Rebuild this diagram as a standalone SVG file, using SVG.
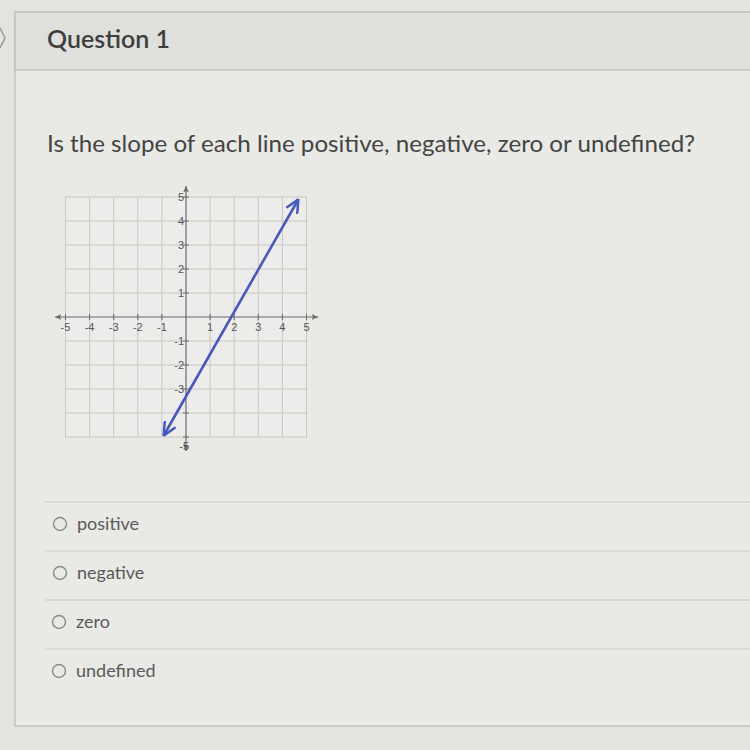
<svg xmlns="http://www.w3.org/2000/svg" width="750" height="750" viewBox="0 0 750 750">
<defs>
<style>
.grid{stroke:#c6c6c3;stroke-width:1;fill:none}
.axis{stroke:#6a6a6a;stroke-width:1.2;fill:none}
.tick{stroke:#6a6a6a;stroke-width:1}
.num{font-family:"Liberation Sans",Arial,sans-serif;font-size:11px;fill:#555}
.opt{font-family:Lato,"Liberation Sans",sans-serif;font-size:18px;fill:#5a5a5a}
.radio{fill:none;stroke:#8a8a8a;stroke-width:1.4}
.sep{stroke:#c9c9c6;stroke-width:1.2}
</style>
<marker id="ah" viewBox="0 0 10 10" refX="9" refY="5" markerWidth="7" markerHeight="7" orient="auto-start-reverse" markerUnits="userSpaceOnUse">
<path d="M0,1 L9,5 L0,9 L2,5 Z" fill="#6a6a6a"/>
</marker>
<marker id="bh" viewBox="0 0 10 10" refX="9" refY="5" markerWidth="14" markerHeight="14" orient="auto-start-reverse" markerUnits="userSpaceOnUse">
<path d="M0,0.5 L9.5,5 L0,9.5" fill="none" stroke="#4758c2" stroke-width="1.8"/>
</marker>
</defs>
<rect x="0" y="0" width="750" height="750" fill="#e3e3e0"/>
<rect x="15" y="12" width="740" height="714" fill="#e9e9e6" stroke="#c2c2bf" stroke-width="1.5"/>
<rect x="15" y="12" width="740" height="58" fill="#dfdfdc" stroke="#c2c2bf" stroke-width="1.5"/>
<path d="M0,28 L5,38 L0,48" fill="none" stroke="#9a9a9a" stroke-width="1.5"/>
<g id="title">
<text x="47" y="48" font-family="Lato,'Liberation Sans',sans-serif" font-size="25" font-weight="600" fill="#3e3e3e" textLength="123" lengthAdjust="spacingAndGlyphs">Question 1</text>
</g>
<g id="question">
<text x="47" y="152" font-family="Lato,'Liberation Sans',sans-serif" font-size="23.5" fill="#444" textLength="648" lengthAdjust="spacingAndGlyphs">Is the slope of each line positive, negative, zero or undefined?</text>
</g>
<g id="graph">
<rect x="65.5" y="197" width="241" height="240" fill="#ececea"/>
<g class="grid">
<path d="M65.5,197V437 M89.6,197V437 M113.7,197V437 M137.8,197V437 M161.9,197V437 M210.1,197V437 M234.2,197V437 M258.3,197V437 M282.4,197V437 M306.5,197V437"/>
<path d="M65.5,197H306.5 M65.5,221H306.5 M65.5,245H306.5 M65.5,269H306.5 M65.5,293H306.5 M65.5,341H306.5 M65.5,365H306.5 M65.5,389H306.5 M65.5,413H306.5 M65.5,437H306.5"/>
</g>
<line class="axis" x1="55" y1="317" x2="318" y2="317" marker-start="url(#ah)" marker-end="url(#ah)"/>
<line class="axis" x1="186" y1="186" x2="186" y2="451" marker-start="url(#ah)" marker-end="url(#ah)"/>
<path class="tick" d="M65.5,314V320 M89.6,314V320 M113.7,314V320 M137.8,314V320 M161.9,314V320 M210.1,314V320 M234.2,314V320 M258.3,314V320 M282.4,314V320 M306.5,314V320 M183,197H189 M183,221H189 M183,245H189 M183,269H189 M183,293H189 M183,341H189 M183,365H189 M183,389H189 M183,413H189 M183,437H189"/>
<g class="num" text-anchor="middle">
<text x="65.5" y="331">-5</text>
<text x="89.6" y="331">-4</text>
<text x="113.7" y="331">-3</text>
<text x="137.8" y="331">-2</text>
<text x="161.9" y="331">-1</text>
<text x="210.1" y="331">1</text>
<text x="234.2" y="331">2</text>
<text x="258.3" y="331">3</text>
<text x="282.4" y="331">4</text>
<text x="306.5" y="331">5</text>
</g>
<g class="num" text-anchor="end">
<text x="184" y="201">5</text>
<text x="184" y="225">4</text>
<text x="184" y="249">3</text>
<text x="184" y="273">2</text>
<text x="184" y="297">1</text>
<text x="184" y="345">-1</text>
<text x="184" y="369">-2</text>
<text x="184" y="393">-3</text>
<text x="189" y="450">-5</text>
</g>
</g>
<g id="connectors">
<line x1="164" y1="435" x2="298" y2="200" stroke="#4758c2" stroke-width="2.6" marker-start="url(#bh)" marker-end="url(#bh)"/>
</g>
<g id="options">
<path class="sep" d="M45,502H750 M45,551H750 M45,600H750 M45,649H750"/>
<g id="opt-positive"><circle class="radio" cx="60" cy="524" r="6.5"/><text class="opt" x="77" y="530">positive</text></g>
<g id="opt-negative"><circle class="radio" cx="60" cy="573" r="6.5"/><text class="opt" x="77" y="579">negative</text></g>
<g id="opt-zero"><circle class="radio" cx="59" cy="622" r="6.5"/><text class="opt" x="76" y="628">zero</text></g>
<g id="opt-undefined"><circle class="radio" cx="59" cy="671" r="6.5"/><text class="opt" x="76" y="677">undefined</text></g>
</g>
</svg>
